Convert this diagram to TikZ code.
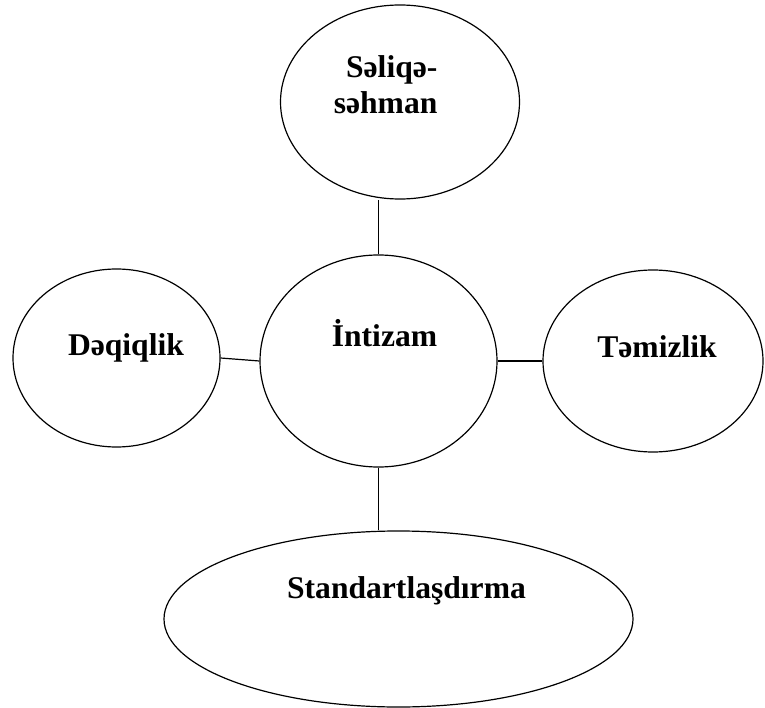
\documentclass[tikz,border=0pt]{standalone}
\usepackage{fontspec}
\setmainfont{Liberation Serif}
\usepackage{tikz}
\usetikzlibrary{positioning,calc,shapes.geometric}

\begin{document}
\begin{tikzpicture}[x=1pt,y=-1pt,
                    oval/.style={ellipse,draw,line width=1.2pt,inner sep=0pt},
                    word/.style={font=\fontsize{31.6}{36}\selectfont\bfseries,inner sep=0pt},
                    every path/.style={line width=1.2pt}]
            \useasboundingbox (0,0) rectangle (765,708);
            %Nodes
                \node[oval,minimum width=239pt,minimum height=194pt] (sel) at (400,102) {};
                \node[oval,minimum width=237pt,minimum height=212pt] (int) at (378.5,361) {};
                \node[oval,minimum width=207pt,minimum height=178pt] (deq) at (116.5,358) {};
                \node[oval,minimum width=220pt,minimum height=182pt] (tem) at (653,361) {};
                \node[oval,minimum width=469pt,minimum height=176pt] (std) at (398.5,619) {};

            %Texts
                \node[word,align=right,anchor=east] (selt) at (438,85) {Səliqə-\\səhman};
                \node[word,anchor=base] (intt) at (384.5,346) {İntizam};
                \node[word,anchor=base] (deqt) at (126,355) {Dəqiqlik};
                \node[word,anchor=base] (temt) at (657,357) {Təmizlik};
                \node[word,anchor=base] (stdt) at (406.5,598) {Standartlaşdırma};

            %Lines
                \draw[-] (int.north) -- (int.north |- sel.south);
                \draw[-] (deq.east) -- (int.west);
                \draw[-] (int.east) -- (tem.west);
                \draw[-] (int.south) -- (int.south |- std.north);
\end{tikzpicture}
\end{document}
